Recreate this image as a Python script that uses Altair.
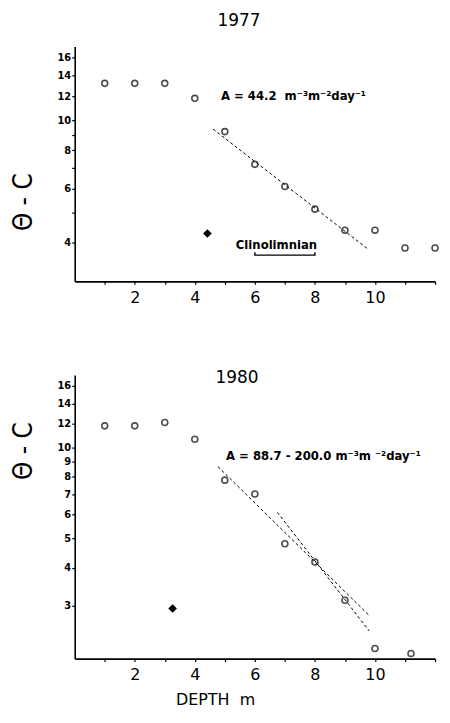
import altair as alt
import pandas as pd

# ---------------- 1977 ----------------
depth_77 = [1, 2, 3, 4, 5, 6, 7, 8, 9, 10, 11, 12]
theta_77 = [13.2, 13.2, 13.2, 11.8, 9.2, 7.2, 6.1, 5.15, 4.4, 4.4, 3.85, 3.85]
diamond_77_x = [4.42]
diamond_77_y = [4.29]
fit_77_x = [4.61, 9.75]
fit_77_y = [9.37, 3.83]
fit_77_id = ["a", "a"]
note_77 = "A = 44.2\u00a0\u00a0m\u207b\u00b3m\u207b\u00b2day\u207b\u00b9"
note_77_x = [4.87]
note_77_y = [12.0]
clino_text = "Clinolimnian"
clino_x = [6.72]
clino_y = [3.95]
bracket_x = [6, 6, 8, 8]
bracket_y = [3.73, 3.65, 3.65, 3.73]

# ---------------- 1980 ----------------
depth_80 = [1, 2, 3, 4, 5, 6, 7, 8, 9, 10, 11.2]
theta_80 = [11.8, 11.8, 12.1, 10.65, 7.8, 7.02, 4.8, 4.18, 3.12, 2.16, 2.08]
diamond_80_x = [3.26]
diamond_80_y = [2.93]
fit_80_x = [4.77, 9.79, 6.75, 9.81]
fit_80_y = [8.65, 2.79, 6.10, 2.47]
fit_80_id = ["a", "a", "b", "b"]
note_80 = "A = 88.7 - 200.0 m\u207b\u00b3m\u00a0\u207b\u00b2day\u207b\u00b9"
note_80_x = [5.04]
note_80_y = [9.38]

x_ticks = list(range(1, 13))
y_ticks_77 = [4, 5, 6, 7, 8, 9, 10, 12, 14, 16]
y_ticks_80 = [3, 4, 5, 6, 7, 8, 9, 10, 12, 14, 16]

LBL_FONT = "DejaVu Sans Condensed"


def panel(px, py, dxv, dyv, fx, fy, fid, note, nx, ny, ydomain, yticks, ylabexpr,
          title, title_offset, title_dx, w, h, ytx, yty, xtitle, extra=None):
    xs = alt.Scale(domain=[0, 12], nice=False, zero=False)
    ys = alt.Scale(type="log", domain=ydomain, nice=False)
    xaxis_kw = dict(
        values=x_ticks,
        labelExpr="datum.value % 2 == 0 && datum.value <= 10 ? datum.label : ''",
        tickSize=3, labelPadding=5, labelFont="DejaVu Sans", labelFontSize=16,
        labelFlush=False, domainWidth=1.6, tickWidth=1.2,
    )
    if xtitle:
        xaxis_kw.update(title=xtitle, titleFont="DejaVu Sans", titleFontSize=16,
                        titleFontWeight="normal", titlePadding=9, titleX=141,
                        titleAlign="center")
    else:
        xaxis_kw.update(title=None)
    xaxis = alt.Axis(**xaxis_kw)
    yaxis = alt.Axis(
        values=yticks, labelExpr=ylabexpr, tickSize=3, labelPadding=1,
        labelFont=LBL_FONT, labelFontWeight="bold", labelFontSize=11,
        domainWidth=1.6, tickWidth=1.2, labelFlush=False,
        title="\u0398\u00a0-\u00a0C", titleFont="DejaVu Sans Condensed",
        titleFontSize=26, titleFontWeight="normal", titleX=ytx, titleY=yty,
        titleBaseline="middle", titleAlign="center", titleAngle=270,
    )
    X = alt.X("x:Q", scale=xs, axis=xaxis)
    Y = alt.Y("y:Q", scale=ys, axis=yaxis)

    pts = alt.Chart(pd.DataFrame({"x": px, "y": py})).mark_point(
        shape="circle", filled=False, size=36, strokeWidth=1.6, color="black"
    ).encode(x=X, y=Y)
    dia = alt.Chart(pd.DataFrame({"x": dxv, "y": dyv})).mark_point(
        shape="diamond", filled=True, size=75, color="black", opacity=1
    ).encode(x=X, y=Y)
    fit = alt.Chart(pd.DataFrame({"x": fx, "y": fy, "id": fid})).mark_line(
        color="black", strokeWidth=1, strokeDash=[3, 2.5]
    ).encode(x=X, y=Y, detail="id:N")
    txt = alt.Chart(pd.DataFrame({"x": nx, "y": ny, "t": [note]})).mark_text(
        align="left", baseline="middle", font=LBL_FONT, fontWeight="bold",
        fontSize=13, color="black"
    ).encode(x=X, y=Y, text="t:N")
    layers = [fit, pts, dia, txt]
    if extra is not None:
        layers += extra(X, Y)
    return alt.layer(*layers).properties(
        width=w, height=h,
        title=alt.TitleParams(title, font="DejaVu Sans", fontSize=17,
                              fontWeight="normal", color="black",
                              offset=title_offset, dx=title_dx, anchor="middle"),
    )


def clino_layers(X, Y):
    ct = alt.Chart(pd.DataFrame({"x": clino_x, "y": clino_y, "t": [clino_text]})).mark_text(
        align="center", baseline="middle", font=LBL_FONT, fontWeight="bold",
        fontSize=13, color="black"
    ).encode(x=X, y=Y, text="t:N")
    br = alt.Chart(pd.DataFrame({"x": bracket_x, "y": bracket_y, "o": [0, 1, 2, 3]})).mark_line(
        color="black", strokeWidth=1.4
    ).encode(x=X, y=Y, order="o:Q")
    return [ct, br]


top = panel(depth_77, theta_77, diamond_77_x, diamond_77_y, fit_77_x, fit_77_y, fit_77_id,
            note_77, note_77_x, note_77_y, [3, 17.4], y_ticks_77,
            "datum.value == 5 || datum.value == 7 || datum.value == 9 ? '' : datum.label",
            "1977", 17, -16, 362, 236, -51, 156, None, extra=clino_layers)

bottom = panel(depth_80, theta_80, diamond_80_x, diamond_80_y, fit_80_x, fit_80_y, fit_80_id,
               note_80, note_80_x, note_80_y, [2, 17.4], y_ticks_80, "datum.label",
               "1980", -12, -18, 362, 285, -51, 76, "DEPTH\u00a0\u00a0m")

chart = alt.vconcat(top, bottom, spacing=64).properties(
    padding={"left": 3, "top": 2, "right": 0, "bottom": 0}
).configure_view(stroke=None).configure_axis(
    grid=False, domainColor="black", tickColor="black", labelColor="black",
    titleColor="black"
)

chart.save("out.html", embed_options={"renderer": "svg", "actions": False})
